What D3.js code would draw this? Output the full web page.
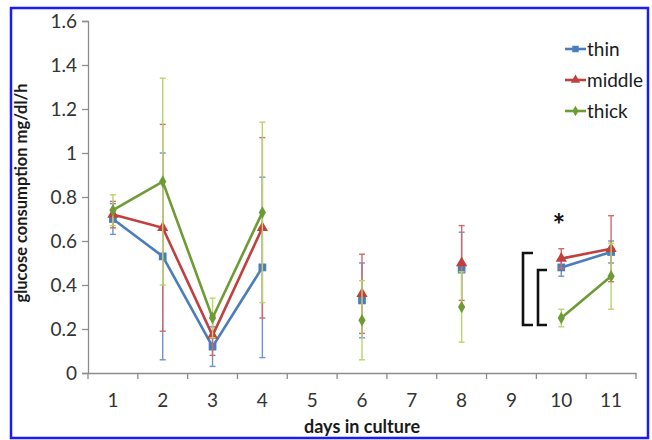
<!DOCTYPE html>
<html><head><meta charset="utf-8">
<script src="https://cdn.jsdelivr.net/npm/d3@7"></script>
<style>body{margin:0;background:#fff}svg{display:block}</style>
</head><body>
<svg id="c" width="652" height="440"></svg>
<script>
const days = ["1","2","3","4","5","6","7","8","9","10","11"];
const yTicks = [0,0.2,0.4,0.6,0.8,1,1.2,1.4,1.6];
const thin   = [0.70,0.53,0.12,0.48,null,0.33,null,0.47,null,0.48,0.55];
const thinErr= [0.07,0.47,0.09,0.41,null,0.17,null,0.17,null,0.04,0.05];
const middle = [0.72,0.66,0.17,0.66,null,0.36,null,0.50,null,0.52,0.565];
const middleErr=[0.06,0.47,0.09,0.41,null,0.18,null,0.17,null,0.045,0.15];
const thick  = [0.74,0.87,0.25,0.73,null,0.24,null,0.30,null,0.25,0.44];
const thickErr=[0.07,0.47,0.09,0.41,null,0.18,null,0.16,null,0.04,0.15];
const seriesNames = ["thin","middle","thick"];

const svg = d3.select("#c");
const font = "Lato, 'Open Sans', sans-serif";
const x = d3.scaleBand().domain(days).range([88,636]);
const y = d3.scaleLinear().domain([0,1.6]).range([373,21]);

// border
svg.append("rect").attr("x",11).attr("y",8).attr("width",637).attr("height",430)
  .attr("fill","none").attr("stroke","#1a1aff").attr("stroke-width",2.5);

// axes
const ax = svg.append("g").attr("transform","translate(88,0)")
  .call(d3.axisLeft(y).tickValues(yTicks).tickSize(6).tickPadding(5).tickFormat(d3.format("~g")));
const bx = svg.append("g").attr("transform","translate(0,373)")
  .call(d3.axisBottom(x).tickSize(0).tickPadding(21));
[ax,bx].forEach(g=>{
  g.select(".domain").attr("stroke","#8c8c8c").attr("stroke-width",1.3);
  g.selectAll(".tick line").attr("stroke","#8c8c8c").attr("stroke-width",1.3);
  g.selectAll("text").attr("font-family",font).attr("font-size",19).attr("fill","#333");
});
// x tick marks at band boundaries
bx.selectAll(".bnd").data(days.concat(["end"])).join("line").attr("class","bnd")
  .attr("x1",(d,i)=>88 + i*x.step()).attr("x2",(d,i)=>88 + i*x.step())
  .attr("y1",0).attr("y2",6).attr("stroke","#8c8c8c").attr("stroke-width",1.3);

// labels
svg.append("text").attr("transform","translate(27,193) rotate(-90)").attr("text-anchor","middle")
  .attr("font-family",font).attr("font-weight","bold").attr("font-size",16.5).attr("fill","#1a1a1a")
  .text("glucose consumption mg/dl/h");
svg.append("text").attr("x",362).attr("y",433).attr("text-anchor","middle")
  .attr("font-family",font).attr("font-weight","bold").attr("font-size",18).attr("fill","#1a1a1a")
  .text("days in culture");

const cfg = [
  {name:"thin", vals:thin, errs:thinErr, color:"#4a7ebb", errColor:"#6f93cc", sym:d3.symbolSquare, size:60},
  {name:"middle", vals:middle, errs:middleErr, color:"#c0403f", errColor:"#cf6a6a", sym:d3.symbolTriangle, size:55},
  {name:"thick", vals:thick, errs:thickErr, color:"#6e9b35", errColor:"#b9d46a", sym:d3.symbolDiamond, size:45}
];
const cx = d => x(d) + x.bandwidth()/2;

cfg.forEach(s=>{
  const g = svg.append("g");
  const pts = days.map((d,i)=>({d, v:s.vals[i], e:s.errs[i]}));
  const valid = pts.filter(p=>p.v!==null);
  const eg = g.append("g").attr("stroke",s.errColor).attr("stroke-width",1.4);
  valid.forEach(p=>{
    const X = cx(p.d);
    eg.append("line").attr("x1",X).attr("x2",X).attr("y1",y(p.v-p.e)).attr("y2",y(p.v+p.e));
    [p.v-p.e,p.v+p.e].forEach(v=>eg.append("line").attr("x1",X-3).attr("x2",X+3).attr("y1",y(v)).attr("y2",y(v)));
  });
  const line = d3.line().defined(p=>p.v!==null).x(p=>cx(p.d)).y(p=>y(p.v));
  g.append("path").datum(pts).attr("d",line).attr("fill","none").attr("stroke",s.color).attr("stroke-width",2.6);
  g.selectAll("path.m").data(valid).join("path").attr("class","m")
    .attr("d",d3.symbol().type(s.sym).size(s.size))
    .attr("transform",p=>`translate(${cx(p.d)},${y(p.v)})`).attr("fill",s.color);
});

// legend
cfg.forEach((s,i)=>{
  const ly = 49 + i*31;
  svg.append("line").attr("x1",565).attr("x2",586).attr("y1",ly).attr("y2",ly).attr("stroke",s.color).attr("stroke-width",2.6);
  svg.append("path").attr("d",d3.symbol().type(s.sym).size(s.size*0.7)).attr("transform",`translate(575.5,${ly})`).attr("fill",s.color);
  svg.append("text").attr("x",587).attr("y",ly).attr("dy","0.35em").attr("font-family",font)
    .attr("font-size",19).attr("fill","#1a1a1a").text(s.name);
});

// significance brackets
const br = svg.append("g").attr("fill","none").attr("stroke","#111").attr("stroke-width",2.6);
br.append("path").attr("d","M533,253 H523 V325 H533");
br.append("path").attr("d","M547,270 H538 V325 H547");
svg.append("text").attr("x",559).attr("y",236).attr("text-anchor","middle").attr("font-family",font)
  .attr("font-weight","bold").attr("font-size",30).attr("fill","#111").text("*");
</script>
</body></html>
